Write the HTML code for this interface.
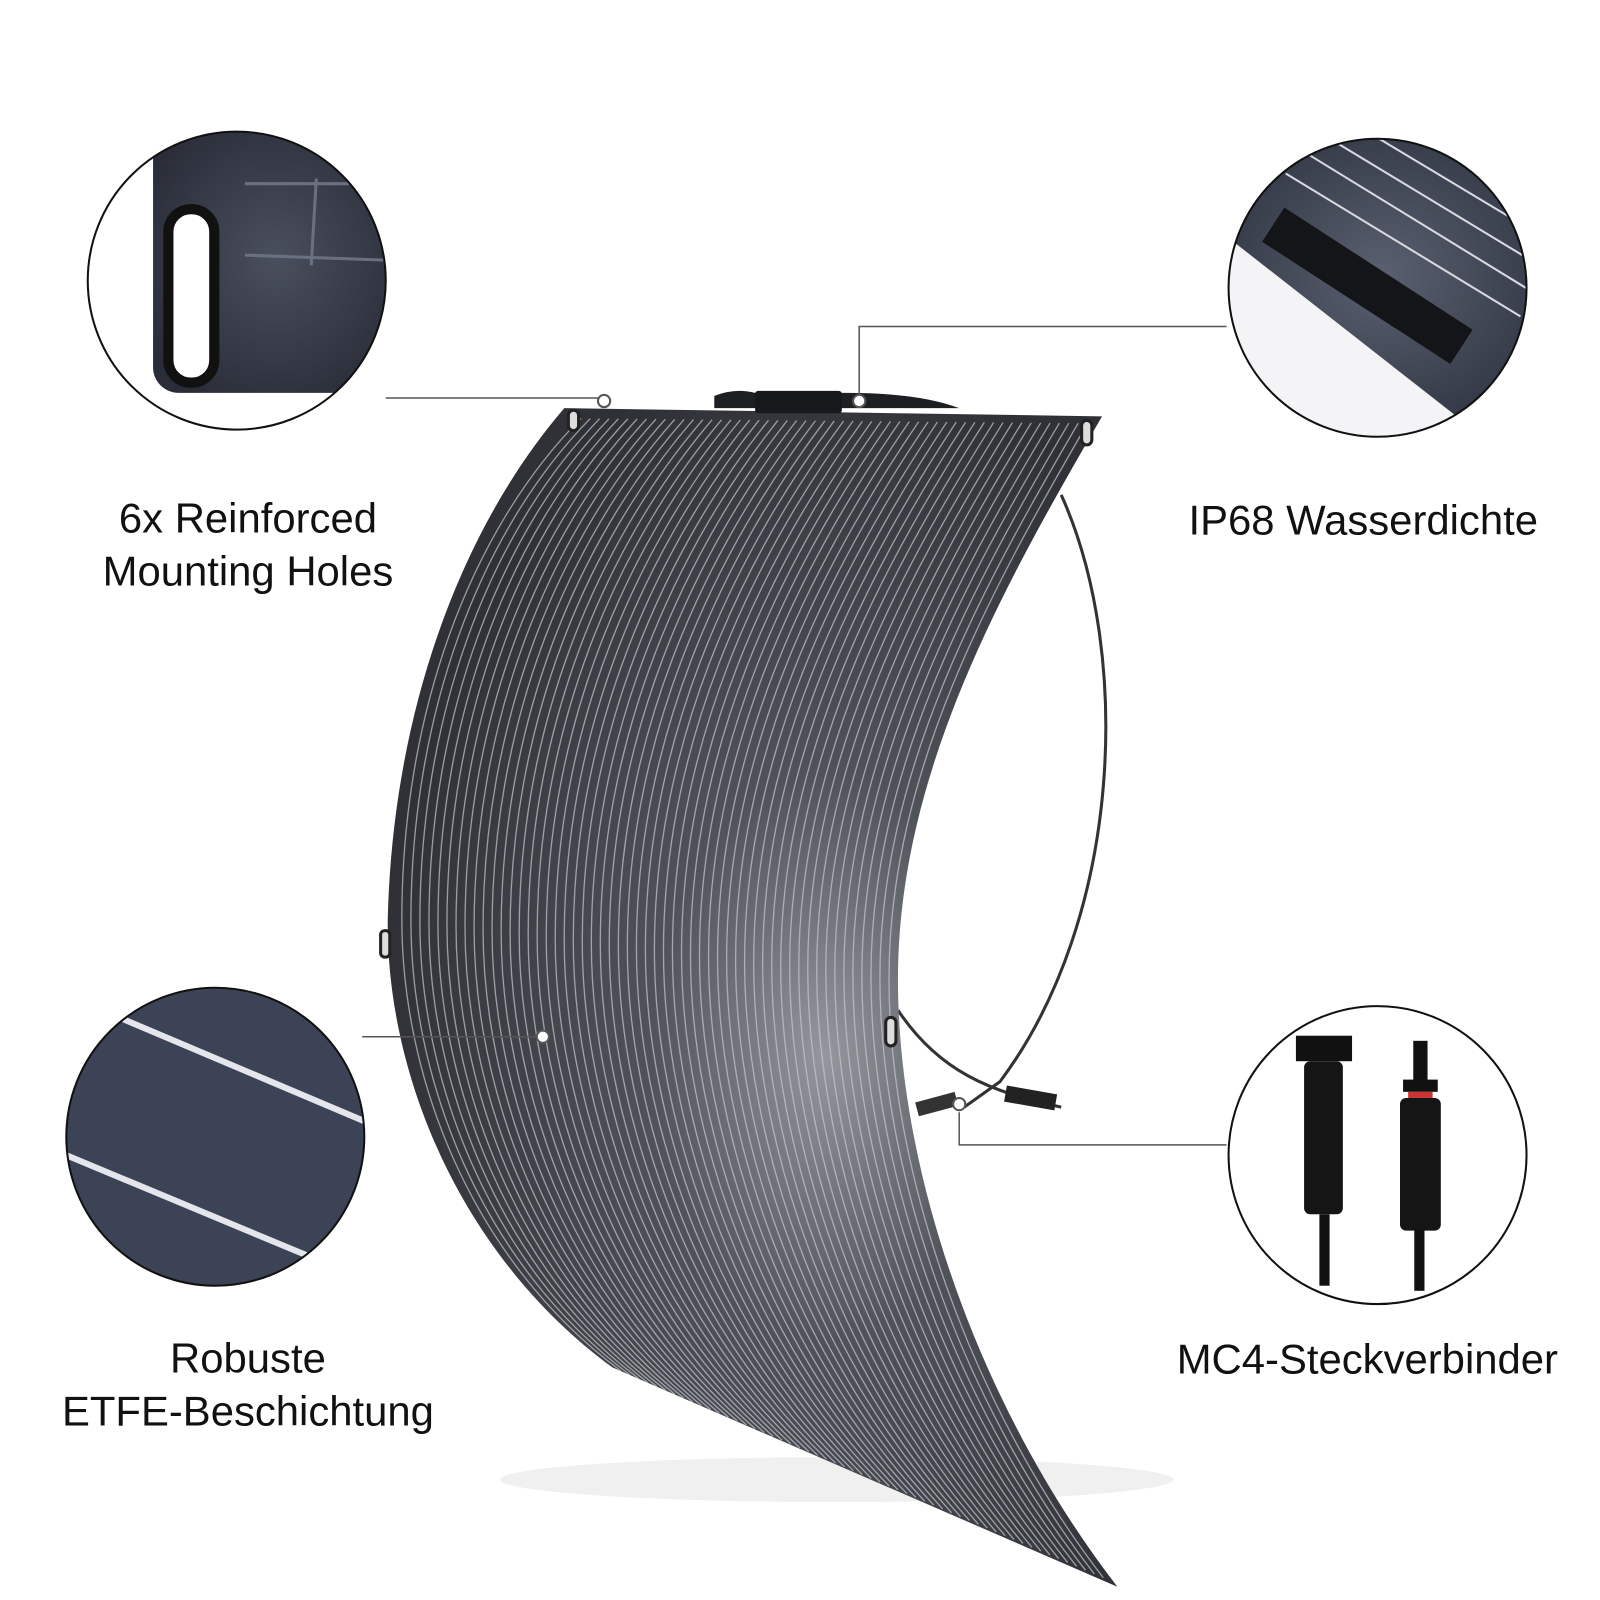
<!DOCTYPE html>
<html><head><meta charset="utf-8"><style>
html,body{margin:0;padding:0;background:#fff;}
svg{display:block}
text{font-family:"Liberation Sans",sans-serif;fill:#111;font-size:41px;text-anchor:middle}
</style></head><body>
<svg id="s" width="1600" height="1600" viewBox="0 0 1568 1568" xmlns="http://www.w3.org/2000/svg">
<defs>
<radialGradient id="g" cx="0.6" cy="0.55" r="0.6">
<stop offset="0" stop-color="#95979e"/><stop offset="0.4" stop-color="#50525a"/><stop offset="1" stop-color="#303137"/>
</radialGradient>
<radialGradient id="c1" cx="0.5" cy="0.5" r="0.6"><stop offset="0" stop-color="#4a4f5e"/><stop offset="1" stop-color="#2a2d38"/></radialGradient>
<radialGradient id="c2" cx="0.5" cy="0.5" r="0.6"><stop offset="0" stop-color="#5a6070"/><stop offset="1" stop-color="#303542"/></radialGradient>
<clipPath id="cl1"><circle cx="232" cy="275" r="146"/></clipPath>
<clipPath id="cl2"><circle cx="1350" cy="282" r="146"/></clipPath>
<clipPath id="cl3"><circle cx="211" cy="1114" r="146"/></clipPath>
<clipPath id="pc"><path d="M553,400 L1080,408 C980,580 880,760 880,960 C880,1150 960,1380 1095,1555 L600,1340 C450,1230 378,1050 380,900 C385,700 450,520 553,400 Z"/></clipPath>
</defs>
<ellipse cx="820" cy="1450" rx="330" ry="22" fill="#f0f0f0"/>
<path d="M1040,485 C1110,640 1100,900 980,1060 L945,1085" fill="none" stroke="#333" stroke-width="3"/>
<path d="M880,990 C920,1050 970,1070 1040,1085" fill="none" stroke="#333" stroke-width="3"/>
<rect x="985" y="1068" width="50" height="16" fill="#222" transform="rotate(10 1010 1076)"/>
<rect x="898" y="1075" width="40" height="14" fill="#333" transform="rotate(-15 918 1082)"/>
<path d="M553,400 L1080,408 C980,580 880,760 880,960 C880,1150 960,1380 1095,1555 L600,1340 C450,1230 378,1050 380,900 C385,700 450,520 553,400 Z" fill="url(#g)"/>
<g id="lines" clip-path="url(#pc)" stroke="#c8c9cf" stroke-width="1.3" fill="none" opacity="0.7"></g>
<path d="M700,388 Q720,380 740,385 L830,385 Q900,385 940,400 L700,400Z" fill="#1e1f23"/>
<rect x="740" y="383" width="85" height="22" rx="3" fill="#17181b"/>
<rect x="557" y="402" width="10" height="20" rx="5" fill="#ddd" stroke="#222" stroke-width="3"/>
<rect x="1060" y="412" width="10" height="24" rx="5" fill="#ddd" stroke="#222" stroke-width="3"/>
<rect x="373" y="912" width="9" height="26" rx="4" fill="#ddd" stroke="#222" stroke-width="3"/>
<rect x="868" y="997" width="10" height="28" rx="5" fill="#ddd" stroke="#222" stroke-width="3"/>
<g stroke="#555" stroke-width="1.5" fill="none">
<path d="M378,390 L592,390"/>
<path d="M1202,320 L842,320 L842,392"/>
<path d="M355,1016 L532,1016"/>
<path d="M1202,1122 L940,1122 L940,1090"/>
</g>
<g fill="#fff" stroke="#555" stroke-width="2">
<circle cx="592" cy="393" r="6"/><circle cx="842" cy="393" r="6"/><circle cx="532" cy="1016" r="6"/><circle cx="940" cy="1082" r="6"/>
</g>
<g clip-path="url(#cl1)"><rect x="80" y="120" width="310" height="310" fill="#fff"/>
<rect x="150" y="120" width="240" height="265" rx="25" fill="url(#c1)"/>
<rect x="165" y="205" width="45" height="170" rx="22" fill="#fff" stroke="#111" stroke-width="10"/>
<path d="M240,180 L380,180 M310,175 L305,260 M240,250 L380,255" stroke="#6b7080" stroke-width="3"/></g>
<circle cx="232" cy="275" r="146" fill="none" stroke="#111" stroke-width="2"/>
<g clip-path="url(#cl2)"><rect x="1200" y="130" width="310" height="310" fill="#f4f4f6"/>
<path d="M1200,130 L1510,130 L1510,410 L1430,410 L1200,230Z" fill="url(#c2)"/>
<g stroke="#d8dae0" stroke-width="2"><path d="M1260,170 L1490,310"/><path d="M1280,150 L1500,285"/><path d="M1310,140 L1500,255"/><path d="M1350,135 L1500,225"/></g>
<rect x="1230" y="260" width="220" height="40" fill="#141518" transform="rotate(33 1340 280)"/></g>
<circle cx="1350" cy="282" r="146" fill="none" stroke="#111" stroke-width="2"/>
<g clip-path="url(#cl3)"><rect x="60" y="960" width="310" height="310" fill="#3d4356"/>
<g stroke="#e4e6ec" stroke-width="6"><path d="M100,990 L360,1100"/><path d="M60,1130 L300,1230"/></g></g>
<circle cx="211" cy="1114" r="146" fill="none" stroke="#111" stroke-width="2"/>
<rect x="1270" y="1015" width="55" height="25" fill="#111"/><rect x="1278" y="1040" width="38" height="150" rx="6" fill="#151515"/>
<rect x="1293" y="1190" width="10" height="70" fill="#111"/>
<rect x="1385" y="1020" width="14" height="40" fill="#111"/><rect x="1375" y="1058" width="34" height="12" fill="#111"/>
<rect x="1380" y="1070" width="24" height="6" fill="#c33"/><rect x="1372" y="1076" width="40" height="130" rx="6" fill="#151515"/>
<rect x="1386" y="1205" width="10" height="60" fill="#111"/>
<circle cx="1350" cy="1132" r="146" fill="none" stroke="#111" stroke-width="2"/>
<text x="243" y="522">6x Reinforced</text>
<text x="243" y="574">Mounting Holes</text>
<text x="1336" y="524">IP68 Wasserdichte</text>
<text x="243" y="1345">Robuste</text>
<text x="243" y="1397">ETFE-Beschichtung</text>
<text x="1340" y="1346">MC4-Steckverbinder</text>
</svg>
<script>
(function(){var g=document.getElementById('lines'),h='';
var L=[[560,410],[450,520],[385,700],[385,900],[385,1050],[450,1230],[600,1340]],R=[[1075,415],[980,580],[880,760],[880,960],[880,1150],[960,1380],[1090,1550]];
for(var i=1;i<56;i++){var t=i/56,p=[];for(var k=0;k<7;k++)p.push((L[k][0]*(1-t)+R[k][0]*t).toFixed(1)+','+(L[k][1]*(1-t)+R[k][1]*t).toFixed(1));
h+='<path d="M'+p[0]+' C'+p[1]+' '+p[2]+' '+p[3]+' C'+p[4]+' '+p[5]+' '+p[6]+'"/>';}
g.innerHTML=h;})();
</script>
</body></html>
